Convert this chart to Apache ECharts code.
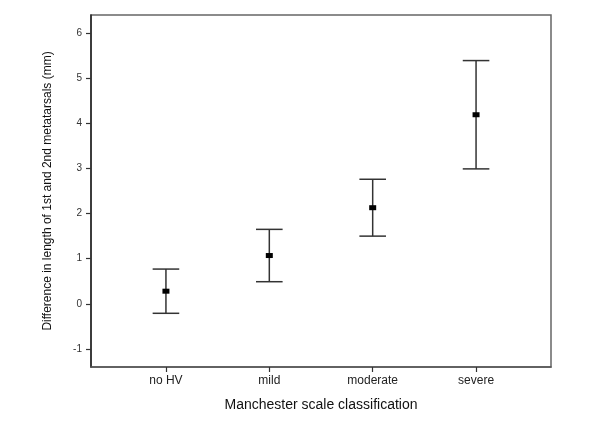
<!DOCTYPE html>
<html><head><meta charset="utf-8">
<script src="https://cdn.jsdelivr.net/npm/echarts@6/dist/echarts.min.js"></script>
<style>html,body{margin:0;padding:0;background:#fff}#c{width:600px;height:424px}</style>
</head><body><div id="c"></div>
<script>
const categories = ['no HV', 'mild', 'moderate', 'severe'];
const means = [0.28, 1.07, 2.13, 4.19];
const lowers = [-0.21, 0.49, 1.50, 2.99];
const uppers = [0.77, 1.65, 2.76, 5.39];
const yTicks = [-1, 0, 1, 2, 3, 4, 5, 6];
const xPositions = [1, 2, 3, 4];

const chart = echarts.init(document.getElementById('c'), null, {renderer: 'canvas'});
const data = categories.map((c, i) => [xPositions[i], lowers[i], uppers[i], means[i]]);
const font = 'Liberation Sans, Arial, sans-serif';
chart.setOption({
  animation: false,
  grid: {left: 91, right: 49, top: 15, bottom: 57, show: true, borderColor: '#666', borderWidth: 1.5},
  xAxis: {
    type: 'value', min: 0.275, max: 4.725,
    name: 'Manchester scale classification', nameLocation: 'middle', nameGap: 31,
    nameTextStyle: {fontFamily: font, fontSize: 14, color: '#111'},
    axisLine: {show: true, onZero: false, lineStyle: {color: '#555', width: 1.5}},
    axisTick: {show: true, customValues: xPositions, length: 5, lineStyle: {color: '#333', width: 1.2}},
    axisLabel: {customValues: xPositions, formatter: v => categories[Math.round(v) - 1] || '', fontFamily: font, fontSize: 12, color: '#222', margin: 8},
    splitLine: {show: false}
  },
  yAxis: {
    type: 'value', min: -1.4, max: 6.4,
    name: 'Difference in length of 1st and 2nd metatarsals (mm)', nameLocation: 'middle', nameGap: 37, nameRotate: 90,
    nameTextStyle: {fontFamily: font, fontSize: 12, color: '#111'},
    axisLine: {show: true, onZero: false, lineStyle: {color: '#222', width: 1.5}},
    axisTick: {show: true, customValues: yTicks, length: 5, lineStyle: {color: '#333', width: 1.2}},
    axisLabel: {customValues: yTicks, fontFamily: font, fontSize: 10, color: '#333', margin: 9},
    splitLine: {show: false}
  },
  series: [{
    type: 'custom',
    data: data,
    renderItem: function (params, api) {
      const x = api.value(0);
      const lo = api.coord([x, api.value(1)]);
      const hi = api.coord([x, api.value(2)]);
      const m = api.coord([x, api.value(3)]);
      const hw = 13.3;
      const st = {stroke: '#333', lineWidth: 1.5};
      return {type: 'group', children: [
        {type: 'line', shape: {x1: hi[0], y1: hi[1], x2: lo[0], y2: lo[1]}, style: st},
        {type: 'line', shape: {x1: hi[0] - hw, y1: hi[1], x2: hi[0] + hw, y2: hi[1]}, style: st},
        {type: 'line', shape: {x1: lo[0] - hw, y1: lo[1], x2: lo[0] + hw, y2: lo[1]}, style: st},
        {type: 'rect', shape: {x: m[0] - 3.5, y: m[1] - 2.5, width: 7, height: 5}, style: {fill: '#000'}}
      ]};
    }
  }]
});
</script></body></html>
